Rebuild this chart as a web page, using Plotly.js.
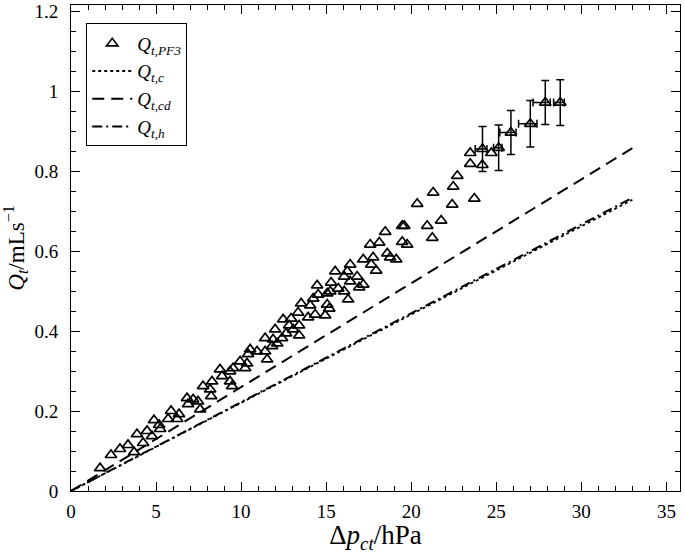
<!DOCTYPE html>
<html>
<head>
<meta charset="utf-8">
<script src="https://cdn.plot.ly/plotly-3.0.1.min.js"></script>
<style>html,body{margin:0;padding:0;background:#fff;}#chart{width:685px;height:554px;}</style>
</head>
<body>
<div id="chart"></div>
<script>
// Measured points Q_t,PF3 (Δp_ct in hPa, Q_t in mL/s)
const pf3X = [1.71,2.35,2.88,3.35,3.71,3.88,4.24,4.47,4.76,4.88,5.18,5.24,5.71,5.88,6.24,6.35,6.82,6.88,7.18,7.47,7.59,7.76,8.18,8.29,8.24,8.76,8.88,9.35,9.35,9.47,9.53,9.94,10.24,10.35,10.41,10.53,10.94,11.41,11.53,11.41,11.82,11.88,12.12,12.41,12.0,12.47,12.65,12.82,12.94,13.06,13.35,13.41,13.41,13.53,13.94,14.06,14.24,14.35,14.47,14.53,14.94,15.06,15.06,15.18,15.24,15.29,15.53,15.71,16.06,16.06,16.24,16.29,16.41,16.41,16.82,16.94,17.18,17.18,17.59,17.65,17.76,17.94,18.12,18.47,18.59,18.76,19.12,19.47,19.59,19.47,19.76,20.35,20.94,21.24,21.29,21.76,22.41,22.47,22.71,23.71,23.47,23.47,24.18,24.71];
const pf3Y = [0.057,0.090,0.105,0.115,0.097,0.142,0.120,0.150,0.137,0.177,0.165,0.155,0.180,0.200,0.180,0.192,0.232,0.217,0.229,0.224,0.204,0.262,0.254,0.274,0.237,0.304,0.287,0.299,0.274,0.262,0.307,0.324,0.307,0.319,0.342,0.354,0.349,0.349,0.329,0.382,0.362,0.379,0.369,0.382,0.404,0.429,0.394,0.414,0.431,0.404,0.446,0.414,0.389,0.469,0.434,0.464,0.481,0.441,0.514,0.491,0.439,0.494,0.466,0.456,0.499,0.521,0.549,0.506,0.536,0.499,0.549,0.479,0.566,0.524,0.536,0.509,0.579,0.516,0.616,0.566,0.584,0.551,0.621,0.648,0.594,0.584,0.579,0.663,0.663,0.623,0.616,0.718,0.663,0.633,0.746,0.676,0.716,0.761,0.788,0.731,0.845,0.818,0.815,0.845];

// Points with error bars
const errX = [24.19,25.14,25.86,27.0,27.88,28.76];
const errY = [0.855,0.858,0.896,0.918,0.971,0.971];
const errYval = [0.056,0.057,0.055,0.058,0.055,0.057];
const errXplus = [0.26,0.2,0.3,0.39,0.29,0.24];
const errXminus = [0.43,0.3,0.65,0.69,0.72,0.39];

// Model lines
const lineX = [0, 33];
const qcY = [0, 0.728];
const qcdY = [0, 0.857];
const qhY = [0, 0.733];

const xTickVals = [0,5,10,15,20,25,30,35];
const yTickVals = [0,0.2,0.4,0.6,0.8,1,1.2];

const FONT = '"Liberation Serif", "DejaVu Serif", serif';
const tri = {symbol:'triangle-up-open', size:10, color:'#000', line:{color:'#000', width:1.7}};

const traces = [
  {x: pf3X, y: pf3Y, type:'scatter', mode:'markers', name:'<i>Q</i><sub><i>t,PF3</i></sub>', marker: tri},
  {x: errX, y: errY, type:'scatter', mode:'markers', showlegend:false, marker: tri,
   error_y:{type:'data', array:errYval, visible:true, color:'#000', thickness:1.5, width:4},
   error_x:{type:'data', symmetric:false, array:errXplus, arrayminus:errXminus, visible:true, color:'#000', thickness:1.5, width:4}},
  {x: lineX, y: qcY, type:'scatter', mode:'lines', name:'<i>Q</i><sub><i>t,c</i></sub>', line:{color:'#000', width:1.8, dash:'dot'}},
  {x: lineX, y: qcdY, type:'scatter', mode:'lines', name:'<i>Q</i><sub><i>t,cd</i></sub>', line:{color:'#000', width:2, dash:'12px,7px'}},
  {x: lineX, y: qhY, type:'scatter', mode:'lines', name:'<i>Q</i><sub><i>t,h</i></sub>', line:{color:'#000', width:2, dash:'10px,4px,2px,4px'}}
];

const axisCommon = {
  showgrid:false, zeroline:false, showline:true, linecolor:'#000', linewidth:1, mirror:'allticks',
  ticks:'inside', ticklen:9, tickwidth:1, tickcolor:'#000', ticklabeloverflow:'allow',
  tickfont:{family:FONT, size:19, color:'#000'}
};

const layout = {
  width:685, height:554,
  margin:{l:71, r:5, t:5, b:63},
  paper_bgcolor:'#fff', plot_bgcolor:'#fff',
  font:{family:FONT, color:'#000'},
  xaxis: Object.assign({}, axisCommon, {
    range:[0, 35.8], tickvals:xTickVals, ticklabelstandoff:3,
    minor:{dtick:1, ticks:'inside', ticklen:5, tickcolor:'#000', showgrid:false},
    title:{text:'Δ<i>p</i><sub><i>ct</i></sub>/hPa', font:{family:FONT, size:27, color:'#000'}, standoff:8}
  }),
  yaxis: Object.assign({}, axisCommon, {
    range:[0, 1.215], tickvals:yTickVals, ticklabelstandoff:8,
    minor:{dtick:0.05, ticks:'inside', ticklen:5, tickcolor:'#000', showgrid:false},
    title:{text:'<i>Q</i><sub><i>t</i></sub>/mLs<sup>−1</sup>', font:{family:FONT, size:23, color:'#000'}, standoff:8}
  }),
  legend:{x:0.025, y:0.962, xanchor:'left', yanchor:'top', bgcolor:'#fff', bordercolor:'#000', borderwidth:1,
          font:{family:FONT, size:19, color:'#000'}, tracegroupgap:0, itemwidth:40},
  showlegend:true
};

Plotly.newPlot('chart', traces, layout, {displayModeBar:false, staticPlot:true});
</script>
</body>
</html>
